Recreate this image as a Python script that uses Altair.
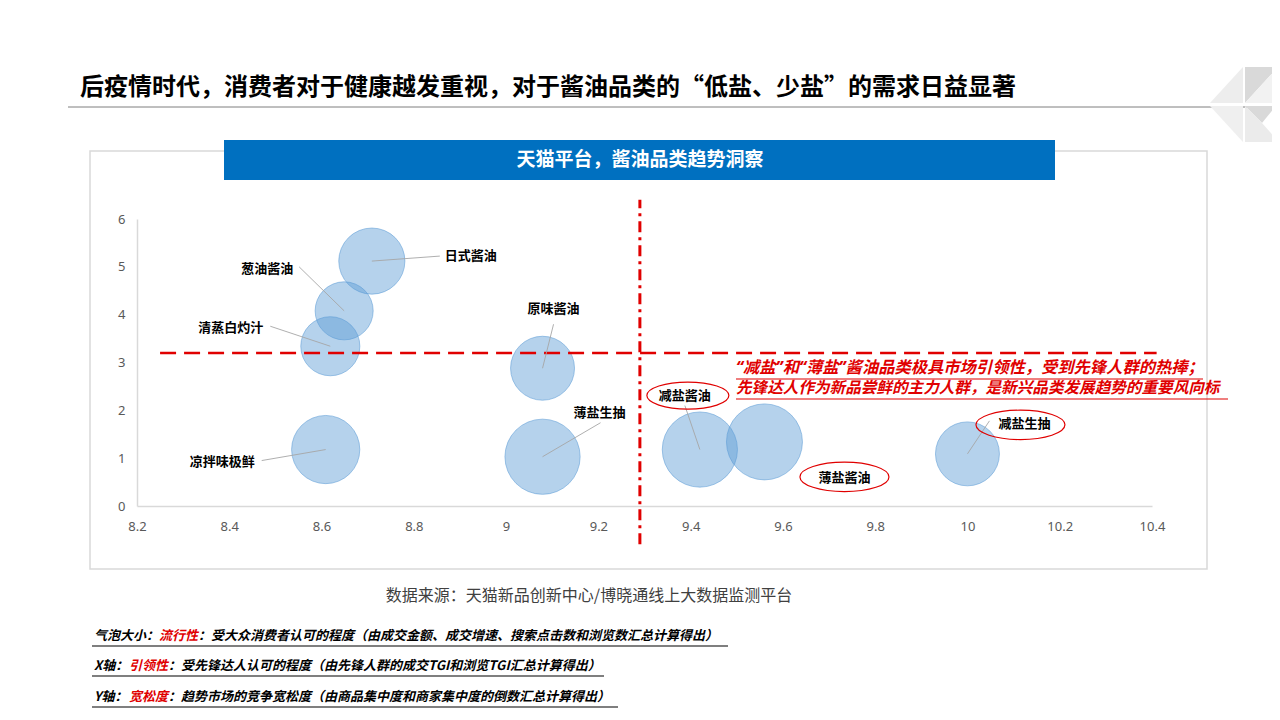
import altair as alt
import pandas as pd

# ---------------- data ----------------
names = ["日式酱油", "葱油酱油", "清蒸白灼汁", "凉拌味极鲜", "原味酱油", "薄盐生抽", "减盐酱油", "薄盐酱油", "减盐生抽"]
lead = [8.709, 8.649, 8.619, 8.609, 9.079, 9.079, 9.42, 9.56, 10.0]        # X: 引领性
loose = [5.12, 4.08, 3.34, 1.18, 2.88, 1.03, 1.18, 1.34, 1.09]            # Y: 宽松度
popular = [10.9, 8.4, 8.7, 11.6, 10.2, 14.1, 14.1, 14.4, 10.2]             # bubble: 流行性

x_ticks = [8.2, 8.4, 8.6, 8.8, 9.0, 9.2, 9.4, 9.6, 9.8, 10.0, 10.2, 10.4]
y_ticks = [0, 1, 2, 3, 4, 5, 6]
x_threshold = 9.29
y_threshold = 3.2
h_line_span = [8.25, 10.41]
v_line_span = [-0.8, 6.4]

title_text = "后疫情时代，消费者对于健康越发重视，对于酱油品类的“低盐、少盐”的需求日益显著"
banner_text = "天猫平台，酱油品类趋势洞察"
note_lines = ["“减盐”和“薄盐”酱油品类极具市场引领性，受到先锋人群的热捧；",
              "先锋达人作为新品尝鲜的主力人群，是新兴品类发展趋势的重要风向标"]
source_text = "数据来源：天猫新品创新中心/博晓通线上大数据监测平台"
footer = [
    ["气泡大小：", "流行性", "：受大众消费者认可的程度（由成交金额、成交增速、搜索点击数和浏览数汇总计算得出）"],
    ["X轴：", "引领性", "：受先锋达人认可的程度（由先锋人群的成交TGI和浏览TGI汇总计算得出）"],
    ["Y轴：", "宽松度", "：趋势市场的竞争宽松度（由商品集中度和商家集中度的倒数汇总计算得出）"],
]

# ---------------- layout ----------------
W, H = 1015, 287
OX, OY = 137, 219            # page position of plot origin
PXU = W / (x_ticks[-1] - x_ticks[0])
PYU = H / (y_ticks[-1] - y_ticks[0])
FONT = "Noto Sans CJK SC"
FONT_NARROWQ = '"Noto Sans", "Noto Sans CJK SC"'
RED = "#E00000"

# label offsets in px relative to bubble centre: text dx, dy, align, leader dx, dy, ellipse dx, dy, width
label_layout = [
    (73, -5, "left", 68, -5, None, None, None),
    (-51, -42, "right", -45, -44, None, None, None),
    (-67, -18, "right", -60, -20, None, None, None),
    (-71, 12, "right", -64, 11, None, None, None),
    (11, -59, "center", 11, -44, None, None, None),
    (57, -44, "center", 58, -34, None, None, None),
    (-15, -54, "center", -15, -44, -12, -54, 82),
    (80, 36, "center", None, None, 80, 35, 89),
    (57, -30, "center", 22, -33, 53, -29, 89),
]

rows = []
for n, x, y, p, lay in zip(names, lead, loose, popular, label_layout):
    tdx, tdy, al, ldx, ldy, edx, edy, ew = lay
    rows.append(dict(
        name=n, x=x, y=y, pop=p, align=al,
        tx=x + tdx / PXU, ty=y - tdy / PYU,
        has_leader=ldx is not None,
        lx=x + (ldx or 0) / PXU, ly=y - (ldy or 0) / PYU,
        has_ell=edx is not None,
        ex=x + (edx or 0) / PXU, ey=y - (edy or 0) / PYU,
        esize=(ew or 0) ** 2,
    ))
df = pd.DataFrame(rows)
one = pd.DataFrame({"a": [0]})


def px(v):
    return v - OX


def py(v):
    return v - OY


xs = alt.Scale(domain=[x_ticks[0], x_ticks[-1]], nice=False, zero=False)
ys = alt.Scale(domain=[y_ticks[0], y_ticks[-1]], nice=False, zero=False)

layers = []

# background box & banner
layers.append(alt.Chart(one).mark_rect(fill="white", stroke="#D9D9D9", strokeWidth=1.5).encode(
    x=alt.value(px(90)), x2=alt.value(px(1207)), y=alt.value(py(151)), y2=alt.value(py(569))))
layers.append(alt.Chart(one).mark_rect(fill="#0070C0").encode(
    x=alt.value(px(224)), x2=alt.value(px(1055)), y=alt.value(py(140)), y2=alt.value(py(180))))


def text_layer(txt, x, y, size, color="black", weight="normal", style="normal", align="left", font=FONT):
    return alt.Chart(one).mark_text(text=txt, font=font, fontSize=size, color=color, fontWeight=weight,
                                    fontStyle=style, align=align, baseline="middle").encode(
        x=alt.value(px(x)), y=alt.value(py(y)))


def hrule(x1, x2, y, color, width=1.0):
    return alt.Chart(one).mark_rule(color=color, strokeWidth=width).encode(
        x=alt.value(px(x1)), x2=alt.value(px(x2)), y=alt.value(py(y)))


layers.append(text_layer(banner_text, 640, 160, 19, "white", "bold", align="center"))
layers.append(text_layer(title_text, 80, 88, 24, "black", "bold"))
layers.append(hrule(68, 1252, 107, "#7F7F7F", 1))

# decorative logo
C, R = (1244, 105), 36
logo_polys = [
    ([(1243, 67), (1243, 103), (1210, 103)], "#EDEDED"),
    ([(1245, 67), (1278, 67), (1245, 103)], "#D9D9D9"),
    ([(1278, 67), (1278, 103), (1245, 103)], "#F2F2F2"),
    ([(1210, 106), (1243, 106), (1243, 142)], "#EFEFEF"),
    ([(1245, 106), (1276, 106), (1262, 123)], "#D9D9D9"),
    ([(1245, 106), (1262, 123), (1279, 142), (1245, 142)], "#EBEBEB"),
]
for poly, col in logo_polys:
    path = "M" + "L".join(f"{(a - C[0]) / R:.3f},{(b - C[1]) / R:.3f}" for a, b in poly) + "Z"
    layers.append(alt.Chart(one).mark_point(shape=path, filled=True, fill=col, opacity=1, strokeWidth=0).encode(
        x=alt.value(px(C[0])), y=alt.value(py(C[1])), size=alt.value((2 * R) ** 2)))

# threshold lines
thr_h = pd.DataFrame({"x1": [h_line_span[0]], "x2": [h_line_span[1]], "y": [y_threshold]})
thr_v = pd.DataFrame({"x": [x_threshold], "y1": [v_line_span[0]], "y2": [v_line_span[1]]})

x_axis = alt.Axis(values=x_ticks, format=".1~f", domainColor="#D9D9D9", domainWidth=1.5, ticks=False,
                  labelColor="#595959", labelFontSize=13, labelFont="Noto Sans", labelPadding=14,
                  grid=False, labelFlush=False, labelOverlap=False, zindex=1, title=None)
y_axis = alt.Axis(values=y_ticks, domainColor="#D9D9D9", domainWidth=1.5, ticks=False,
                  labelColor="#595959", labelFontSize=13, labelFont="Noto Sans", labelPadding=12,
                  grid=False, zindex=1, title=None)

# bubbles
base = alt.Chart(df)
bubbles = base.mark_circle(fill="#5B9BD5", fillOpacity=0.45, stroke="#5B9BD5", strokeOpacity=0.55,
                           strokeWidth=1).encode(
    x=alt.X("x:Q", scale=xs, axis=x_axis),
    y=alt.Y("y:Q", scale=ys, axis=y_axis),
    size=alt.Size("pop:Q", scale=alt.Scale(domain=[0, 14.4], range=[0, 5776]), legend=None),
)
layers.append(bubbles)

layers.append(alt.Chart(thr_h).mark_rule(color=RED, strokeWidth=2.5, strokeDash=[16, 8]).encode(
    x=alt.X("x1:Q", scale=xs, axis=x_axis), x2="x2:Q", y=alt.Y("y:Q", scale=ys, axis=y_axis)))
layers.append(alt.Chart(thr_v).mark_rule(color=RED, strokeWidth=3, strokeDash=[11, 5, 3, 5]).encode(
    x=alt.X("x:Q", scale=xs, axis=x_axis), y=alt.Y("y1:Q", scale=ys, axis=y_axis), y2="y2:Q"))

# leader lines
layers.append(base.transform_filter("datum.has_leader").mark_rule(color="#A6A6A6", strokeWidth=0.9).encode(
    x=alt.X("x:Q", scale=xs, axis=x_axis), y=alt.Y("y:Q", scale=ys, axis=y_axis), x2="lx:Q", y2="ly:Q"))

# red ellipses
ell = "M-1,0A1,0.33,0,1,1,1,0A1,0.33,0,1,1,-1,0Z"
layers.append(base.transform_filter("datum.has_ell").mark_point(shape=ell, filled=False, stroke=RED, strokeWidth=1.2,
                                                               opacity=1).encode(
    x=alt.X("ex:Q", scale=xs, axis=x_axis), y=alt.Y("ey:Q", scale=ys, axis=y_axis),
    size=alt.Size("esize:Q", scale=None)))

# bubble labels
for al in ["left", "right", "center"]:
    layers.append(base.transform_filter(f"datum.align == '{al}'").mark_text(
        font=FONT, fontSize=13, fontWeight="bold", color="black", align=al, baseline="middle").encode(
        x=alt.X("tx:Q", scale=xs, axis=x_axis), y=alt.Y("ty:Q", scale=ys, axis=y_axis), text="name:N"))

# red annotation
layers.append(text_layer(note_lines[0], 736, 368, 16.3, RED, "bold", "italic", font=FONT_NARROWQ))
layers.append(text_layer(note_lines[1], 736, 388, 15.6, RED, "bold", "italic", font=FONT_NARROWQ))
layers.append(hrule(736, 1203, 379, RED, 1.2))
layers.append(hrule(736, 1228, 399, RED, 1.2))

# data source
layers.append(text_layer(source_text, 589, 596, 16, "#404040", "normal", align="center"))

# footer notes
foot_y = [636, 666, 697]
foot_x = [(94, 159, 198), (94, 129, 168), (94, 129, 168)]
foot_ul = [728, 604, 618]
for (a, b, c), fy, (xa, xb, xc), ul in zip(footer, foot_y, foot_x, foot_ul):
    layers.append(text_layer(a, xa, fy, 13, "black", "bold", "italic"))
    layers.append(text_layer(b, xb, fy, 13, RED, "bold", "italic"))
    layers.append(text_layer(c, xc, fy, 13, "black", "bold", "italic"))
    layers.append(hrule(92, ul, fy + 10, "black", 1.2))

chart = alt.layer(*layers).resolve_scale(size="independent").properties(
    width=W, height=H,
    autosize=alt.AutoSizeParams(type="none"),
    padding={"left": OX - 8, "top": OY - 8, "right": 1264 - (OX - 8) - W, "bottom": 704 - (OY - 8) - H},
).configure_view(stroke=None).configure(background="white")

chart.save("out.html", embed_options={"renderer": "svg", "actions": False})
